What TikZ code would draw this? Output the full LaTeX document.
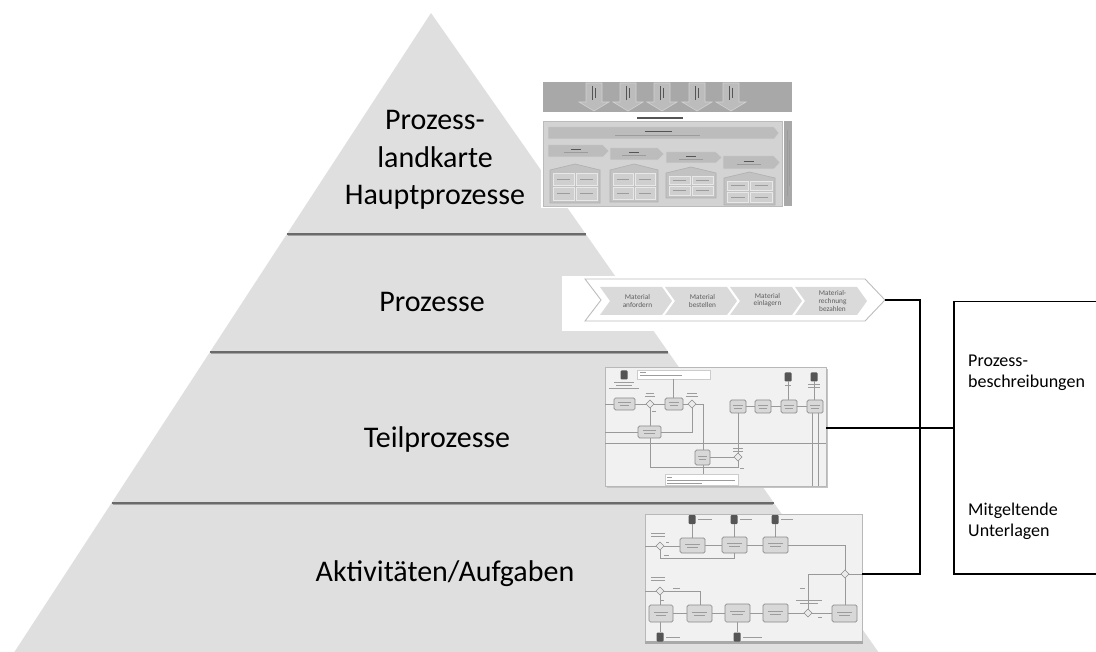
\documentclass[tikz,border=0pt]{standalone}
\usepackage{fontspec}
\setmainfont{Carlito}
\definecolor{pyr}{HTML}{DFDFDF}
\definecolor{sepc}{HTML}{6A6A6A}
\definecolor{seps}{HTML}{A2A2A2}
\definecolor{flwc}{HTML}{999999}
\definecolor{tskf}{HTML}{D8D8D8}
\definecolor{tskd}{HTML}{8A8A8A}
\definecolor{tlc}{HTML}{9C9C9C}
\definecolor{dobc}{HTML}{555555}
\definecolor{chevf}{HTML}{DADADA}
\definecolor{chevd}{HTML}{BDBDBD}
\definecolor{chevt}{HTML}{5E5E5E}
\definecolor{bandc}{HTML}{A8A8A8}
\definecolor{arrf}{HTML}{BCBCBC}
\definecolor{arrd}{HTML}{D2D2D2}
\definecolor{panf}{HTML}{D3D3D3}
\definecolor{pand}{HTML}{BBBBBB}
\definecolor{housef}{HTML}{C2C2C2}
\definecolor{housed}{HTML}{AFAFAF}
\definecolor{hboxf}{HTML}{CFCFCF}
\definecolor{hboxd}{HTML}{E8E8E8}
\definecolor{framef}{HTML}{F1F1F1}
\definecolor{framed}{HTML}{B8B8B8}
\definecolor{shdc}{HTML}{C4C4C4}
\definecolor{darktxt}{HTML}{555555}

\tikzset{
  sepline/.style={draw=sepc, line width=2},
  sepshadow/.style={draw=seps, line width=1},
  lbl/.style={font=\fontsize{30}{36}\selectfont, anchor=base, inner sep=0},
  btxt/.style={font=\fontsize{18}{21}\selectfont, anchor=base west, inner sep=0},
  chevtxt/.style={font=\fontsize{7.3}{7.6}\selectfont, text=chevt, align=center, inner sep=0},
  conn/.style={draw=black, line width=1.6},
  tsk/.style={fill=tskf, draw=tskd, line width=0.7, rounded corners=1.5},
  gwst/.style={fill=white!92!black, draw=tskd, line width=0.6},
  flw/.style={draw=flwc, line width=0.6},
  tl/.style={draw=tlc, line width=0.7},
  dobst/.style={fill=dobc, rounded corners=1},
  hs/.style={fill=housef, draw=housed, line width=0.6},
  hb/.style={fill=hboxf, draw=hboxd, line width=0.5},
  frm/.style={fill=framef, draw=framed, line width=0.6},
}

\newcommand\bpGw[2]{\filldraw[gwst] ({#1-4},#2) -- (#1,{#2-4}) -- ({#1+4},#2) -- (#1,{#2+4}) -- cycle;}
\newcommand\bpData[2]{\fill[dobst] ({#1-3.5},{#2-4.5}) rectangle ({#1+3.5},{#2+4.5});}
\newcommand\bpTxt[3]{\draw[tl] (#1,#3) -- (#2,#3);}
\newcommand\bpTask[4]{\filldraw[tsk] (#1,#2) rectangle (#3,#4);
  \draw[tl] ({(#1+#3)/2-0.3*(#3-#1)},{(#2+#4)/2-1.5}) -- ({(#1+#3)/2+0.3*(#3-#1)},{(#2+#4)/2-1.5});
  \draw[tl] ({(#1+#3)/2-0.22*(#3-#1)},{(#2+#4)/2+1.5}) -- ({(#1+#3)/2+0.22*(#3-#1)},{(#2+#4)/2+1.5});}
\newcommand\hsHouse[5]{%
  \pgfmathsetmacro\hsm{(#1+#2)/2}%
  \filldraw[hs] (#1,#4) -- (\hsm,#3) -- (#2,#4) -- (#2,#5) -- (#1,#5) -- cycle;
  \pgfmathsetmacro\hsya{#4+3}\pgfmathsetmacro\hsyb{(#4+#5)/2-1}%
  \pgfmathsetmacro\hsyc{(#4+#5)/2+1}\pgfmathsetmacro\hsyd{#5-3}%
  \pgfmathsetmacro\hsxa{#1+3}\pgfmathsetmacro\hsxb{\hsm-1}%
  \pgfmathsetmacro\hsxc{\hsm+1}\pgfmathsetmacro\hsxd{#2-3}%
  \filldraw[hb] (\hsxa,\hsya) rectangle (\hsxb,\hsyb);
  \filldraw[hb] (\hsxc,\hsya) rectangle (\hsxd,\hsyb);
  \filldraw[hb] (\hsxa,\hsyc) rectangle (\hsxb,\hsyd);
  \filldraw[hb] (\hsxc,\hsyc) rectangle (\hsxd,\hsyd);
  \draw[tl, line width=0.5] ({\hsxa+4},{(\hsya+\hsyb)/2}) -- ({\hsxb-4},{(\hsya+\hsyb)/2});
  \draw[tl, line width=0.5] ({\hsxc+4},{(\hsya+\hsyb)/2}) -- ({\hsxd-4},{(\hsya+\hsyb)/2});
  \draw[tl, line width=0.5] ({\hsxa+4},{(\hsyc+\hsyd)/2}) -- ({\hsxb-4},{(\hsyc+\hsyd)/2});
  \draw[tl, line width=0.5] ({\hsxc+4},{(\hsyc+\hsyd)/2}) -- ({\hsxd-4},{(\hsyc+\hsyd)/2});
}
\newcommand\hsArrow[5]{% x1 y1 x2 y2 tipx
  \filldraw[fill=arrf, draw=arrd, line width=0.5] (#1,#2) -- (#3,#2) -- (#5,{(#2+#4)/2}) -- (#3,#4) -- (#1,#4) -- cycle;
  \draw[draw=darktxt, line width=0.6] ({(#1+#3)/2-5},{(#2+#4)/2-1.5}) -- ({(#1+#3)/2+5},{(#2+#4)/2-1.5});
  \draw[tl, line width=0.5] ({(#1+#3)/2-12},{(#2+#4)/2+1.5}) -- ({(#1+#3)/2+12},{(#2+#4)/2+1.5});
}

\begin{document}
\begin{tikzpicture}[x=1pt,y=-1pt]
\useasboundingbox (0,0) rectangle (1096,652);
\fill[white] (0,0) rectangle (1096,652);

% ---------------- pyramid ----------------
\fill[pyr] (431,13) -- (878.3,652) -- (14.4,652) -- cycle;
\draw[sepshadow] (287.5,235.6) -- (585.5,235.6);
\draw[sepline] (286.9,234) -- (585.7,234);
\draw[sepshadow] (211,353.6) -- (667.5,353.6);
\draw[sepline] (210,352) -- (668.3,352);
\draw[sepshadow] (112.5,504.6) -- (773,504.6);
\draw[sepline] (111.5,503) -- (774,503);

\node[lbl] (l1a) at (435,130) {Prozess-};
\node[lbl] (l1b) at (435,168) {landkarte};
\node[lbl] (l1c) at (435,205) {Hauptprozesse};
\node[lbl] (l2) at (432,312) {Prozesse};
\node[lbl] (l3) at (437,447) {Teilprozesse};
\node[lbl] (l4) at (445,581) {Aktivitäten/Aufgaben};

% ---------------- thumbnail 1: process map ----------------
\fill[white] (541,80) rectangle (794,208);
\fill[bandc] (543,82) rectangle (792,112);
\foreach \c in {594,628,662,697,731} {
  \filldraw[fill=arrf, draw=arrd, line width=0.6] (\c-8,83) -- (\c+8,83) -- (\c+8,102) -- (\c+15,102) -- (\c,111) -- (\c-15,102) -- (\c-8,102) -- cycle;
  \draw[draw=darktxt, line width=0.6] (\c-1.5,86) -- (\c-1.5,100);
  \draw[draw=darktxt, line width=0.6] (\c+1.5,88) -- (\c+1.5,98);
}
\draw[draw=darktxt, line width=1.2] (637,118) -- (683,118);
\filldraw[fill=panf, draw=pand, line width=0.6] (543,121) rectangle (782,206);
\fill[bandc] (784,121) rectangle (792,206);
\draw[tl, line width=0.5] (787,130) -- (787,196);
\draw[tl, line width=0.5] (789.5,140) -- (789.5,186);
\filldraw[fill=arrf, draw=arrd, line width=0.5] (548,127) -- (774,127) -- (779,133) -- (774,139) -- (548,139) -- cycle;
\draw[draw=darktxt, line width=0.6] (645,131) -- (672,131);
\draw[tl, line width=0.5] (615,135) -- (700,135);
\hsArrow{548}{145}{603}{157}{609}
\hsArrow{610}{148}{658}{160}{664}
\hsArrow{666}{152}{716}{163}{722}
\hsArrow{723}{156}{774}{169}{780}
\hsHouse{550}{600}{164}{170}{203}
\hsHouse{610}{658}{164}{170}{202}
\hsHouse{666}{716}{167}{173}{198}
\hsHouse{724}{775}{172}{178}{205}

% ---------------- thumbnail 2: value chain ----------------
\fill[white] (562,276) rectangle (893,331);
\filldraw[fill=white, draw=chevd, line width=0.9] (585,279) -- (865,279) -- (885,300) -- (865,321) -- (585,321) -- (601,300) -- cycle;
\foreach \i in {0,1,2,3} {
  \pgfmathsetmacro\cx{600+65*\i}
  \fill[chevf] (\cx,287) -- (\cx+62,287) -- (\cx+72,301) -- (\cx+62,315) -- (\cx,315) -- (\cx+10,301) -- cycle;
}
\node[chevtxt] (c1) at (637.5,301) {Material\\anfordern};
\node[chevtxt] (c2) at (702.5,301) {Material\\bestellen};
\node[chevtxt] (c3) at (767.5,300) {Material\\einlagern};
\node[chevtxt] (c4) at (832.5,301) {Material-\\rechnung\\bezahlen};
\coordinate (t2tip) at (885,300);

% ---------------- thumbnail 3: sub-process ----------------
\fill[shdc] (607,369) rectangle (828,488);
\filldraw[frm] (605,367) rectangle (826,486);
\draw[flw] (605,443) -- (826,443);
\bpData{624}{375}
\bpTxt{614}{634}{382} \bpTxt{616}{632}{385} \bpTxt{609}{639}{388}
\filldraw[fill=white, draw=white!80!black, line width=0.4] (637,370) rectangle (710,379);
\bpTxt{640}{646}{372.5} \bpTxt{640}{682}{375.5}
\draw[flw] (673,379) -- (673,398);
\bpTask{614}{398}{635}{410}
\bpTask{665}{398}{683}{410}
\bpTask{638}{426}{661}{438}
\bpTask{695}{450}{710}{465}
\bpTask{730}{400}{746}{413}
\bpTask{755}{400}{771}{413}
\bpTask{781}{400}{797}{413}
\bpTask{807}{400}{823}{413}
\draw[flw] (605,404) -- (614,404);
\draw[flw] (635,404) -- (646,404);
\draw[flw] (654,404) -- (665,404);
\draw[flw] (683,404) -- (688,404);
\draw[flw] (696,404) -- (703,404) -- (703,450);
\draw[flw] (650,408) -- (650,426);
\draw[flw] (605,432) -- (638,432);
\draw[flw] (661,432) -- (692,432) -- (692,408);
\draw[flw] (710,457) -- (734,457);
\draw[flw] (738,453) -- (738,413);
\draw[flw] (746,406.5) -- (755,406.5);
\draw[flw] (771,406.5) -- (781,406.5);
\draw[flw] (797,406.5) -- (807,406.5);
\draw[flw] (650,438) -- (650,467) -- (738,467) -- (738,461);
\bpGw{650}{404} \bpGw{692}{404} \bpGw{738}{457}
\bpTxt{646}{654}{393} \bpTxt{645}{655}{396}
\bpTxt{687}{697}{393} \bpTxt{686}{698}{396}
\bpTxt{733}{743}{448} \bpTxt{733}{743}{451}
\bpTxt{652}{656}{411} \bpTxt{740}{744}{468}
\bpData{788}{377} \bpData{814}{377}
\bpTxt{785}{791}{385} \bpTxt{808}{820}{384} \bpTxt{808}{820}{387}
\draw[flw] (788,381.5) -- (788,400);
\draw[flw] (814,381.5) -- (814,400);
\draw[flw] (812,413) -- (812,486);
\draw[flw] (818,413) -- (818,486);
\draw[flw] (703,465) -- (703,474);
\filldraw[fill=white, draw=white!80!black, line width=0.4] (665,474) rectangle (738,485);
\bpTxt{667}{672}{477} \bpTxt{667}{735}{480} \bpTxt{667}{702}{483}
\coordinate (t3r) at (826,428);

% ---------------- thumbnail 4: activities ----------------
\filldraw[frm] (645,514) rectangle (862,642);
\fill[bandc] (645,641) rectangle (863,644);
\bpData{692}{519.5} \bpData{734}{519.5} \bpData{775}{519.5}
\bpTxt{698}{712}{519.5} \bpTxt{740}{752}{519.5} \bpTxt{781}{793}{519.5}
\draw[flw] (692,524) -- (692,538);
\draw[flw] (734,524) -- (734,537);
\draw[flw] (775,524) -- (775,537);
\bpTxt{651}{665}{533} \bpTxt{651}{665}{536}
\bpTask{680}{538}{705}{553}
\bpTask{722}{537}{747}{553}
\bpTask{763}{537}{788}{553}
\draw[flw] (645,546) -- (656,546);
\draw[flw] (664,546) -- (680,546);
\draw[flw] (705,545) -- (722,545);
\draw[flw] (747,545) -- (763,545);
\draw[flw] (788,545) -- (845,545) -- (845,570);
\draw[flw] (660,550) -- (660,558) -- (734,558) -- (734,553);
\bpTxt{666}{669}{542} \bpTxt{664}{669}{555}
\bpGw{660}{546}
\bpTxt{651}{665}{577} \bpTxt{651}{665}{580}
\draw[flw] (645,591) -- (656,591);
\draw[flw] (664,591) -- (700,591) -- (700,605);
\draw[flw] (660,595) -- (660,605);
\bpTxt{673}{680}{588} \bpTxt{661}{664}{600}
\bpGw{660}{591}
\bpTask{649}{605}{673}{622}
\bpTask{687}{605}{712}{622}
\bpTask{725}{604}{750}{622}
\bpTask{763}{604}{788}{622}
\bpTask{832}{605}{857}{622}
\draw[flw] (673,613) -- (687,613);
\draw[flw] (712,613) -- (725,613);
\draw[flw] (750,613) -- (763,613);
\draw[flw] (788,613) -- (804,613);
\draw[flw] (812,613) -- (832,613);
\draw[flw] (845,605) -- (845,578);
\draw[flw] (808,609) -- (808,574) -- (841,574);
\draw[flw] (849,574) -- (862,574);
\bpGw{808}{613} \bpGw{845}{574}
\bpTxt{796}{822}{600} \bpTxt{800}{818}{603}
\bpTxt{800}{805}{588} \bpTxt{818}{822}{617}
\draw[flw] (660,622) -- (660,632);
\draw[flw] (737,622) -- (737,632);
\bpData{660}{637} \bpData{737}{637}
\bpTxt{666}{680}{637} \bpTxt{743}{762}{637}
\coordinate (t4r) at (862,574);

% ---------------- right box and connectors ----------------
\node[draw=black, line width=1.5, minimum width=145, minimum height=272, anchor=north west, inner sep=0] (box) at (953,301) {};
\node[btxt] (b1) at (968,367) {Prozess-};
\node[btxt] (b2) at (968,388) {beschreibungen};
\node[btxt] (b3) at (968,515) {Mitgeltende};
\node[btxt] (b4) at (968,536) {Unterlagen};

\coordinate (bus) at (920,300);
\draw[conn] (t2tip) -- (bus) |- (t4r);
\draw[conn] (t3r) -- (t3r -| box.west);
\end{tikzpicture}
\end{document}
